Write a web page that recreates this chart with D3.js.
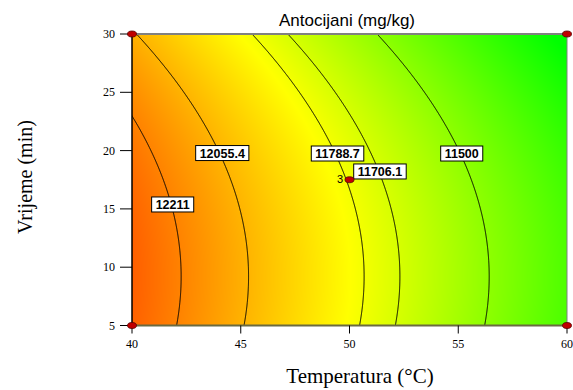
<!DOCTYPE html>
<html><head><meta charset="utf-8">
<script src="https://cdn.jsdelivr.net/npm/d3@7"></script>
<style>body{margin:0;background:#fff} svg{display:block} .serif{font-family:"Liberation Serif","Times New Roman",serif} .sans{font-family:"Liberation Sans",Arial,sans-serif}</style>
</head><body>
<svg id="chart" width="573" height="390"></svg>
<script>
// ---- data ----
const xTicks = [40, 45, 50, 55, 60];
const yTicks = [5, 10, 15, 20, 25, 30];
// fitted response model in coded units: intercept, a (temp), b (time), b^2
const modelCoefs = [11781.2, -502, -124.1, -93.4];
const contourLevels = [12211, 12055.4, 11788.7, 11706.1, 11500];
const contourLabels = ["12211", "12055.4", "11788.7", "11706.1", "11500"];
const labelTemp = [41.87, 44.15, 49.45, 51.40, 55.16];
const labelTime = [15.38, 19.79, 19.75, 18.21, 19.75];
const designTemp = [40, 40, 60, 60, 50];
const designTime = [5, 30, 5, 30, 17.5];
const designReps = [1, 1, 1, 1, 3];
const colorStops = [11100, 11820, 12620];
const colorRange = ["#00ff00", "#ffff00", "#ff0000"];
const chartTitle = "Antocijani (mg/kg)";
const xTitle = "Temperatura (\u00B0C)";
const yTitle = "Vrijeme (min)";

// ---- layout ----
const svg = d3.select("#chart");
const L = 132, R = 567, T = 34, B = 325.5;
const x = d3.scaleLinear().domain([40, 60]).range([L, R]);
const y = d3.scaleLinear().domain([5, 30]).range([B, T]);
const color = d3.scaleLinear().domain(colorStops).range(colorRange).clamp(true);

function predict(A, Bt) {
  const a = (A - 50) / 10, b = (Bt - 17.5) / 12.5;
  return modelCoefs[0] + modelCoefs[1] * a + modelCoefs[2] * b + modelCoefs[3] * b * b;
}

// ---- gradient fill via canvas ----
const W = Math.round(R - L), H = Math.round(B - T);
const cv = document.createElement("canvas");
cv.width = W; cv.height = H;
const ctx = cv.getContext("2d");
const img = ctx.createImageData(W, H);
for (let j = 0; j < H; j++) {
  for (let i = 0; i < W; i++) {
    const v = predict(x.invert(L + i + 0.5), y.invert(T + j + 0.5));
    const c = d3.rgb(color(v));
    const k = (j * W + i) * 4;
    img.data[k] = c.r; img.data[k + 1] = c.g; img.data[k + 2] = c.b; img.data[k + 3] = 255;
  }
}
ctx.putImageData(img, 0, 0);
svg.append("image").attr("x", L).attr("y", T).attr("width", W).attr("height", H)
  .attr("preserveAspectRatio", "none").attr("href", cv.toDataURL());

// ---- contours ----
svg.append("clipPath").attr("id", "plotclip").append("rect")
  .attr("x", L).attr("y", T).attr("width", R - L).attr("height", B - T);
const step = 0.05, A0 = 38, B0 = 3;
const nA = Math.round((62 - A0) / step) + 1, nB = Math.round((32 - B0) / step) + 1;
const grid = new Float64Array(nA * nB);
for (let j = 0; j < nB; j++) for (let i = 0; i < nA; i++)
  grid[j * nA + i] = predict(A0 + i * step, B0 + j * step);
const cont = d3.contours().size([nA, nB]).thresholds(contourLevels)(grid);
const proj = d3.geoTransform({
  point: function(px, py) { this.stream.point(x(A0 + (px - 0.5) * step), y(B0 + (py - 0.5) * step)); }
});
const path = d3.geoPath(proj);
svg.append("g").attr("clip-path", "url(#plotclip)")
  .selectAll("path").data(cont).join("path")
  .attr("d", path).attr("fill", "none").attr("stroke", "#000").attr("stroke-width", 1);

// ---- frame ----
svg.append("line").attr("x1", L).attr("x2", R).attr("y1", T).attr("y2", T).attr("stroke", "#808080").attr("stroke-width", 2);
svg.append("line").attr("x1", R).attr("x2", R).attr("y1", T).attr("y2", B).attr("stroke", "#808080").attr("stroke-width", 1);
svg.append("line").attr("x1", L).attr("x2", R).attr("y1", B).attr("y2", B).attr("stroke", "#6a6a40").attr("stroke-width", 2);
svg.append("line").attr("x1", L).attr("x2", L).attr("y1", T).attr("y2", B).attr("stroke", "#000").attr("stroke-width", 1.5);

// ---- axes ----
const yAxis = svg.append("g");
yAxis.selectAll("line").data(yTicks).join("line")
  .attr("x1", L - 12).attr("x2", L).attr("y1", d => y(d)).attr("y2", d => y(d)).attr("stroke", "#000").attr("stroke-width", 1);
yAxis.selectAll("text").data(yTicks).join("text").attr("class", "serif")
  .attr("x", L - 17).attr("y", d => y(d) + 4).attr("text-anchor", "end")
  .attr("font-size", 12).text(d => d);
const xAxis = svg.append("g");
xAxis.selectAll("line").data(xTicks).join("line")
  .attr("x1", d => x(d)).attr("x2", d => x(d)).attr("y1", B).attr("y2", B + 8).attr("stroke", "#000").attr("stroke-width", 1);
xAxis.selectAll("text").data(xTicks).join("text").attr("class", "serif")
  .attr("x", d => x(d)).attr("y", 348).attr("text-anchor", "middle")
  .attr("font-size", 12).text(d => d);

// ---- titles ----
svg.append("text").attr("class", "sans").attr("x", 347).attr("y", 26).attr("text-anchor", "middle")
  .attr("font-size", 17).text(chartTitle);
svg.append("text").attr("class", "serif").attr("x", 360).attr("y", 383).attr("text-anchor", "middle")
  .attr("font-size", 21).text(xTitle);
svg.append("text").attr("class", "serif").attr("transform", "translate(32,177) rotate(-90)").attr("text-anchor", "middle")
  .attr("font-size", 20).text(yTitle);

// ---- contour labels ----
const lg = svg.append("g").selectAll("g").data(contourLabels).join("g")
  .attr("transform", (d, i) => `translate(${x(labelTemp[i])},${y(labelTime[i])})`);
const lr = lg.append("rect").attr("fill", "#fff").attr("stroke", "#000").attr("stroke-width", 1);
const lt = lg.append("text").attr("class", "sans").attr("text-anchor", "middle").attr("y", 4.5)
  .attr("font-weight", "bold").attr("font-size", 12.5).text(d => d);
lt.each(function(d, i) {
  const w = this.getComputedTextLength() + 8;
  d3.select(this.parentNode).select("rect").attr("x", -w / 2).attr("y", -7.5).attr("width", w).attr("height", 15);
});

// ---- design points ----
const dp = svg.append("g");
dp.selectAll("ellipse").data(designTemp).join("ellipse")
  .attr("cx", (d, i) => x(d)).attr("cy", (d, i) => y(designTime[i]))
  .attr("rx", 4.5).attr("ry", 3).attr("fill", "#c00000").attr("stroke", "#500").attr("stroke-width", 0.8);
dp.selectAll("text").data(designTemp.filter((d, i) => designReps[i] > 1)).join("text").attr("class", "sans")
  .attr("x", d => x(d) - 6.5).attr("y", (d) => y(designTime[designTemp.indexOf(d)]) + 3.5)
  .attr("text-anchor", "end").attr("font-size", 11)
  .text(d => designReps[designTemp.indexOf(d)]);
</script>
</body></html>
